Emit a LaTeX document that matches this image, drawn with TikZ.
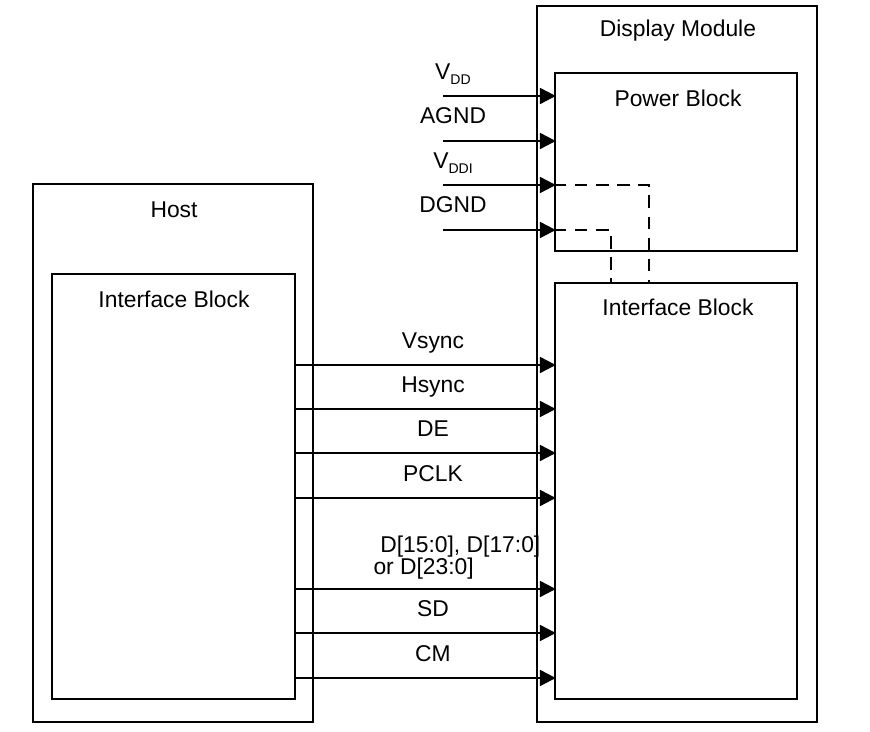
\documentclass[tikz,border=0pt]{standalone}
\usepackage{fontspec}
\setmainfont{Liberation Sans}
\usetikzlibrary{positioning, arrows.meta}

\begin{document}
\begin{tikzpicture}[
    x=0.02cm, y=-0.02cm,
    font=\fontsize{13}{15}\selectfont,
    block/.style={draw, line width=1.1pt, inner sep=0pt},
    sig/.style={line width=1.3pt, -{Triangle[length=9pt, width=9pt]}, shorten >=-1pt},
    link/.style={line width=1.1pt, dashed, dash pattern=on 7pt off 5pt},
    siglabel/.style={anchor=base, inner sep=0pt}
]
\useasboundingbox (0,0) rectangle (870,732);

% Host side
\node[block, minimum width=280*0.02cm, minimum height=538*0.02cm] (host) at (173,453) {};
\node[block, minimum width=243*0.02cm, minimum height=425*0.02cm] (hostif) at (173.5,486.5) {};
\node at (174,210) {Host};
\node at (174,299) {Interface Block};

% Display side
\node[block, minimum width=280*0.02cm, minimum height=716*0.02cm] (disp) at (677,364) {};
\node[block, minimum width=242*0.02cm, minimum height=178*0.02cm] (power) at (676,162) {};
\node[block, minimum width=242*0.02cm, minimum height=416*0.02cm] (dispif) at (676,491) {};
\node at (678,31) {Display Module};
\node at (678,98) {Power Block};
\node at (678,307) {Interface Block};

% Power inputs
\coordinate (vdd) at (443,96);
\coordinate (agnd) at (443,141);
\coordinate (vddi) at (443,185);
\coordinate (dgnd) at (443,230);
\draw[sig] (vdd) -- (power.west |- vdd);
\draw[sig] (agnd) -- (power.west |- agnd);
\draw[sig] (vddi) -- (power.west |- vddi);
\draw[sig] (dgnd) -- (power.west |- dgnd);
\node[siglabel] at (453,80) {V\raisebox{-0.35ex}{\footnotesize DD}};
\node[siglabel] at (453,124) {AGND};
\node[siglabel] at (453,169) {V\raisebox{-0.35ex}{\footnotesize DDI}};
\node[siglabel] at (453,213) {DGND};

% Internal power to interface
\coordinate (pa) at (649,185);
\coordinate (pb) at (611,230);
\draw[link] (power.west |- pa) -- (pa) -- (pa |- dispif.north);
\draw[link] (power.west |- pb) -- (pb) -- (pb |- dispif.north);

% Data signals
\foreach \y/\name/\txt in {365/vs/Vsync, 409/hs/Hsync, 453/de/DE, 498/pclk/PCLK, 633/sd/SD, 678/cm/CM}{
    \coordinate (\name) at (295,\y);
    \draw[sig] (\name) -- (dispif.west |- \name);
    \node[siglabel] at (433,\y-16) {\txt};
}
\coordinate (data) at (295,589);
\draw[sig] (data) -- (dispif.west |- data);
\node[siglabel, align=left, anchor=base west] at (380,575) {D[15:0], D[17:0]\\[-2pt]\hspace*{-0.3em}or D[23:0]};

\end{tikzpicture}
\end{document}
